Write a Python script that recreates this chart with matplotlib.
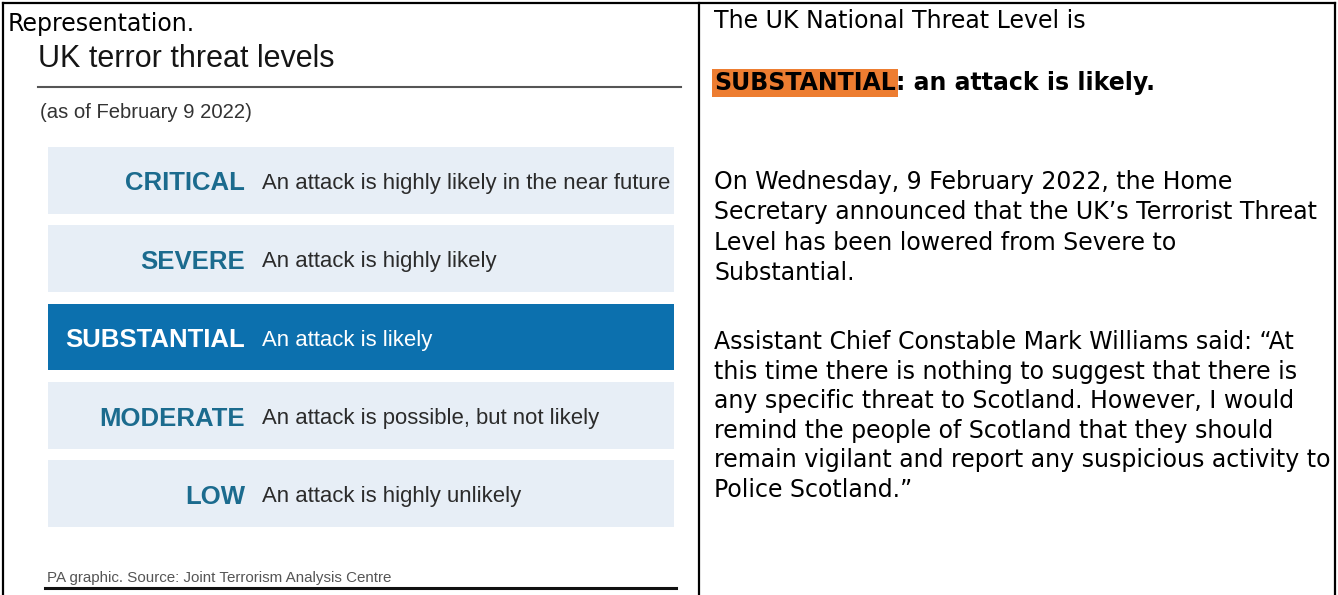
import matplotlib
matplotlib.use("Agg")
import matplotlib.pyplot as plt

# -----------------------------
# data
# -----------------------------
levels = ["CRITICAL", "SEVERE", "SUBSTANTIAL", "MODERATE", "LOW"]
meanings = [
    "An attack is highly likely in the near future",
    "An attack is highly likely",
    "An attack is likely",
    "An attack is possible, but not likely",
    "An attack is highly unlikely",
]
current_level = "SUBSTANTIAL"

graphic_title = "UK terror threat levels"
graphic_date = "(as of February 9 2022)"
graphic_source = "PA graphic. Source: Joint Terrorism Analysis Centre"

left_caption = "Representation."
side_intro = "The UK National Threat Level is"
side_level = "SUBSTANTIAL"
side_level_text = ": an attack is likely."
para_announce = [
    "On Wednesday, 9 February 2022, the Home",
    "Secretary announced that the UK\u2019s Terrorist Threat",
    "Level has been lowered from Severe to",
    "Substantial.",
]
para_quote = [
    "Assistant Chief Constable Mark Williams said: \u201cAt",
    "this time there is nothing to suggest that there is",
    "any specific threat to Scotland. However, I would",
    "remind the people of Scotland that they should",
    "remain vigilant and report any suspicious activity to",
    "Police Scotland.\u201d",
]

# colours
band_light = "#e7eef6"
band_dark = "#0c70ae"
level_blue = "#1b6b8e"
desc_grey = "#2b2b2b"
highlight = "#ed7d31"

graphic_font = ["Liberation Sans"]
doc_font = ["DejaVu Sans"]

# -----------------------------
# page (pixel coordinates)
# -----------------------------
W, H = 1338, 595
fig = plt.figure(figsize=(W / 100, H / 100), dpi=100)
fig.patch.set_facecolor("white")
page = fig.add_axes([0, 0, 1, 1])
page.set_xlim(0, W)
page.set_ylim(H, 0)
page.axis("off")

# table borders
page.plot([3, W - 3], [3, 3], color="black", lw=1.6)
page.plot([3, 3], [3, H], color="black", lw=1.6)
page.plot([W - 3, W - 3], [3, H], color="black", lw=1.6)
page.plot([699, 699], [3, H], color="black", lw=1.6)

# left cell
page.text(8, 31, left_caption, family=doc_font, fontsize=17, color="black")
page.text(38, 67, graphic_title, family=graphic_font, fontsize=22,
          color="#151515")
page.plot([38, 681], [87, 87], color="#555555", lw=1.5)
page.text(40, 118, graphic_date, family=graphic_font, fontsize=14.6,
          color="#333333")
page.text(47, 582, graphic_source, family=graphic_font, fontsize=10.9,
          color="#555555")
page.plot([45, 676], [588, 588], color="#111111", lw=2.2)

# threat level bands
band_ax = fig.add_axes([48 / W, 1 - 527 / H, 626 / W, 380 / H])
h = 0.85
ypos = list(range(len(levels)))
colors = [band_dark if lv == current_level else band_light for lv in levels]
band_ax.barh(ypos, [1] * len(levels), height=h, color=colors)
band_ax.set_xlim(0, 1)
band_ax.set_ylim(len(levels) - 1 + h / 2, -h / 2)
band_ax.axis("off")

tr = band_ax.get_yaxis_transform()
for y, lv, desc in zip(ypos, levels, meanings):
    on_dark = lv == current_level
    band_ax.text(0.315, y + 0.13, lv, transform=tr, ha="right", va="baseline",
                 family=graphic_font, fontsize=18.5, fontweight="bold",
                 color="white" if on_dark else level_blue)
    band_ax.text(0.342, y + 0.11, desc, transform=tr, ha="left", va="baseline",
                 family=graphic_font, fontsize=15.9,
                 color="white" if on_dark else desc_grey)

# right cell
x0 = 714
page.text(x0, 28, side_intro, family=doc_font, fontsize=17, color="black")
lvl = page.text(x0, 90, side_level, family=doc_font, fontsize=17,
                fontweight="bold", color="black",
                bbox=dict(boxstyle="square,pad=0.08", fc=highlight, ec="none"))
page.annotate(side_level_text, xy=(1, 0), xycoords=lvl, ha="left",
              va="bottom", family=doc_font, fontsize=17, fontweight="bold",
              color="black")

for i, line in enumerate(para_announce):
    page.text(x0, 189 + i * 30.5, line, family=doc_font, fontsize=17,
              color="black")
for i, line in enumerate(para_quote):
    page.text(x0, 349 + i * 29.6, line, family=doc_font, fontsize=17,
              color="black")

fig.savefig("out.png", dpi=100, facecolor="white")
